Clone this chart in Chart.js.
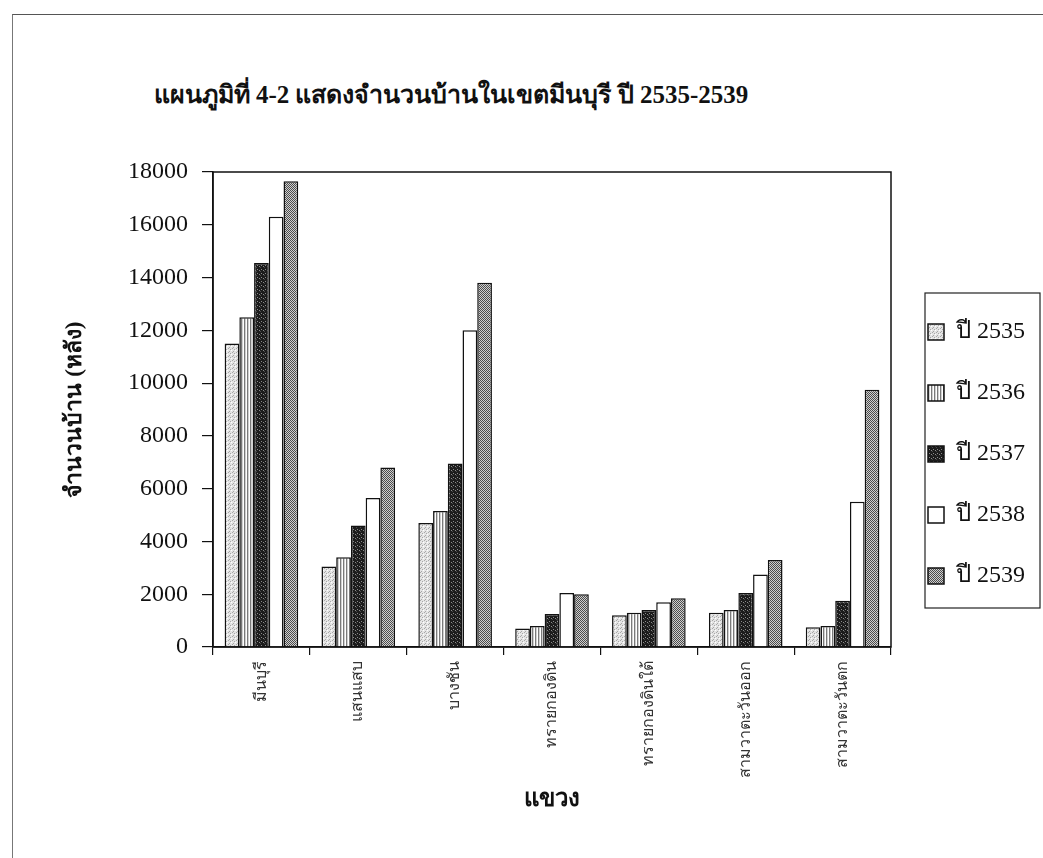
<!DOCTYPE html>
<html>
<head>
<meta charset="utf-8">
<script src="https://cdn.jsdelivr.net/npm/chart.js@4.4.1/dist/chart.umd.min.js"></script>
<style>
  html, body { margin: 0; padding: 0; background: #fff; }
  #wrap { position: relative; width: 1043px; height: 858px; overflow: hidden; }
  #frame {
    position: absolute; left: 12px; top: 14px; width: 1100px; height: 900px;
    border-left: 1.5px solid #777; border-top: 1.5px solid #555;
  }
  #title {
    position: absolute; left: 0; top: 77px; width: 902px; text-align: center;
    font: bold 25px "Liberation Serif", serif; line-height: 36px; color: #111;
  }
  canvas { position: absolute; left: 0; top: 0; }
</style>
</head>
<body>
<div id="wrap">
  <div id="frame"></div>
  <div id="title">แผนภูมิที่ 4-2 แสดงจำนวนบ้านในเขตมีนบุรี ปี 2535-2539</div>
  <canvas id="houseChart" width="1043" height="858"></canvas>
</div>
<script>
const districts = ["มีนบุรี", "แสนแสบ", "บางชัน", "ทรายกองดิน", "ทรายกองดินใต้", "สามวาตะวันออก", "สามวาตะวันตก"];
const yearLabels = ["ปี 2535", "ปี 2536", "ปี 2537", "ปี 2538", "ปี 2539"];
const houses2535 = [11500, 3050, 4700, 700, 1200, 1300, 750];
const houses2536 = [12500, 3400, 5150, 800, 1300, 1400, 800];
const houses2537 = [14550, 4600, 6950, 1250, 1400, 2050, 1750];
const houses2538 = [16300, 5650, 12000, 2050, 1700, 2750, 5500];
const houses2539 = [17650, 6800, 13800, 2000, 1850, 3300, 9750];
const yMin = 0;
const yMax = 18000;
const yStep = 2000;

const serif = '"Liberation Serif", "Times New Roman", serif';

// small tiles to mimic the printed hatch fills
function makePattern(size, paint) {
  const c = document.createElement("canvas");
  c.width = size;
  c.height = size;
  const g = c.getContext("2d");
  paint(g);
  return g.createPattern(c, "repeat");
}

const fill2535 = makePattern(4, (g) => {
  g.fillStyle = "#e4e4e4";
  g.fillRect(0, 0, 4, 4);
  g.fillStyle = "#a8a8a8";
  g.fillRect(0, 0, 1, 1);
  g.fillRect(2, 1, 1, 1);
  g.fillRect(1, 3, 1, 1);
  g.fillStyle = "#ffffff";
  g.fillRect(3, 2, 1, 1);
});

const fill2536 = makePattern(3, (g) => {
  g.fillStyle = "#ffffff";
  g.fillRect(0, 0, 3, 3);
  g.fillStyle = "#7a7a7a";
  g.fillRect(1, 0, 1, 3);
  g.fillStyle = "#d0d0d0";
  g.fillRect(2, 0, 1, 3);
});

const fill2537 = makePattern(4, (g) => {
  g.fillStyle = "#1c1c1c";
  g.fillRect(0, 0, 4, 4);
  g.fillStyle = "#8a8a8a";
  g.fillRect(1, 1, 1, 1);
  g.fillRect(3, 2, 1, 1);
  g.fillStyle = "#4a4a4a";
  g.fillRect(0, 3, 1, 1);
});

const fill2539 = makePattern(2, (g) => {
  g.fillStyle = "#cfcfcf";
  g.fillRect(0, 0, 2, 2);
  g.fillStyle = "#4c4c4c";
  g.fillRect(0, 0, 1, 1);
  g.fillRect(1, 1, 1, 1);
});

const seriesFills = [fill2535, fill2536, fill2537, "#ffffff", fill2539];
const seriesData = [houses2535, houses2536, houses2537, houses2538, houses2539];

// plot frame + legend border like the Excel original
const frameBox = {
  id: "frameBox",
  afterDraw(chart) {
    const { ctx, chartArea: a, legend } = chart;
    ctx.save();
    ctx.strokeStyle = "#111";
    ctx.lineWidth = 1.5;
    ctx.strokeRect(a.left, a.top, a.right - a.left, a.bottom - a.top);

    const boxes = legend.legendHitBoxes;
    if (boxes && boxes.length) {
      const first = boxes[0];
      const last = boxes[boxes.length - 1];
      const x0 = first.left - 3;
      const x1 = legend.right + 5;
      const y0 = first.top - 27;
      const y1 = last.top + last.height + 20;
      ctx.lineWidth = 1.2;
      ctx.strokeStyle = "#222";
      ctx.strokeRect(x0, y0, x1 - x0, y1 - y0);
    }
    ctx.restore();
  },
};

const ctx = document.getElementById("houseChart").getContext("2d");
const houseChart = new Chart(ctx, {
  type: "bar",
  data: {
    labels: districts,
    datasets: yearLabels.map((label, i) => ({
      label: label,
      data: seriesData[i],
      backgroundColor: seriesFills[i],
      borderColor: "#111",
      borderWidth: 1.5,
      categoryPercentage: 0.76,
      barPercentage: 1.0,
    })),
  },
  options: {
    responsive: false,
    animation: false,
    layout: {
      padding: { top: 172, right: 8, bottom: 0, left: 0 },
    },
    plugins: {
      tooltip: { enabled: false },
      legend: {
        position: "right",
        align: "center",
        fullSize: false,
        maxWidth: 153,
        title: {
          display: true,
          text: " ",
          font: { size: 10 },
          padding: { top: 0, bottom: 77 },
        },
        labels: {
          boxWidth: 16,
          boxHeight: 16,
          padding: 37,
          color: "#111",
          font: { family: serif, size: 24 },
        },
      },
    },
    scales: {
      x: {
        grid: {
          drawOnChartArea: false,
          tickLength: 8,
          color: "#111",
          lineWidth: 1.2,
        },
        border: { color: "#111", width: 1.5 },
        ticks: {
          autoSkip: false,
          minRotation: 90,
          maxRotation: 90,
          padding: 6,
          color: "#333",
          font: { family: serif, size: 16 },
        },
        title: {
          display: true,
          text: "แขวง",
          color: "#111",
          font: { family: serif, size: 24, weight: "bold" },
          padding: { top: 0, bottom: 44 },
        },
        afterFit(scale) {
          scale.height = 211;
        },
      },
      y: {
        min: yMin,
        max: yMax,
        grid: {
          drawOnChartArea: false,
          tickLength: 11,
          color: "#111",
          lineWidth: 1.2,
        },
        border: { color: "#111", width: 1.5 },
        ticks: {
          stepSize: yStep,
          padding: 14,
          color: "#111",
          font: { family: serif, size: 24 },
          callback: (v) => String(v),
        },
        title: {
          display: true,
          text: "จำนวนบ้าน (หลัง)",
          color: "#111",
          font: { family: serif, size: 23, weight: "bold" },
          padding: { top: 61, bottom: 0 },
        },
        afterFit(scale) {
          scale.width = 213;
        },
      },
    },
  },
  plugins: [frameBox],
});
</script>
</body>
</html>
